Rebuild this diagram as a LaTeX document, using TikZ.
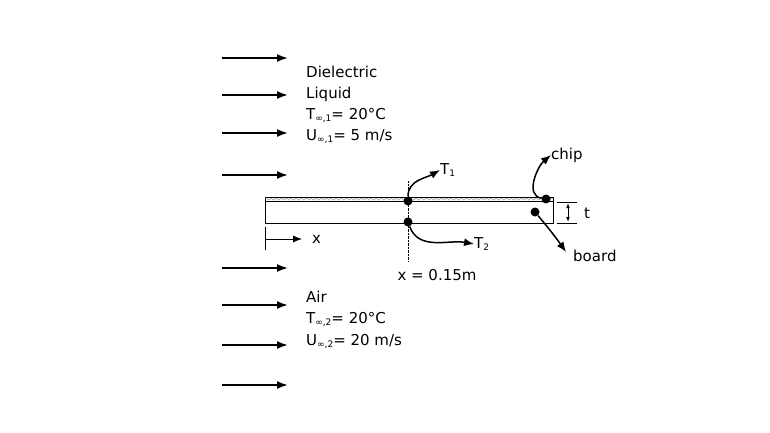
\documentclass[tikz,border=0pt]{standalone}
\usepackage{fontspec}
\setmainfont{DejaVu Sans}
\usetikzlibrary{arrows.meta,patterns,decorations.pathmorphing}
\newcommand{\sbs}[1]{\raisebox{-0.25ex}{\fontsize{9}{10}\selectfont #1}}
\begin{document}
\begin{tikzpicture}[x=1pt,y=-1pt,
 flow/.style={-{Latex[length=11pt,width=8pt]},line width=1.8pt},
 lbl/.style={anchor=west,inner sep=0pt,font=\fontsize{15}{17}\selectfont},
 dot/.style={circle,fill,inner sep=0pt,minimum size=9pt},
 pt/.style={-{Latex[length=10pt,width=8pt]},line width=1.5pt}]
\useasboundingbox (0,0) rectangle (770,433);
\foreach \y/\n in {58/a1,95/a2,133/a3,175/a4,268/a5,305/a6,345/a7,385/a8}{
 \coordinate (s\n) at (222,\y); \coordinate (e\n) at (288,\y);
 \draw[flow] (s\n) -- (e\n);}
\node[lbl] (t1) at (306,72) {Dielectric};
\node[lbl] (t2) at (306,94) {Liquid};
\node[lbl] (t3) at (306,115) {T\sbs{∞,1}= 20°C};
\node[lbl] (t4) at (306,137) {U\sbs{∞,1}= 5 m/s};
\node[lbl] (t5) at (306,297) {Air};
\node[lbl] (t6) at (306,319) {T\sbs{∞,2}= 20°C};
\node[lbl] (t7) at (306,341) {U\sbs{∞,2}= 20 m/s};
% board
\draw (265,197) rectangle (553,201);
\draw[gray,decorate,decoration={zigzag,segment length=5pt,amplitude=1pt}] (265,199) -- (553,199);
\draw[line width=0.8pt] (265,201) rectangle (553,223);
\draw[densely dotted] (408,181) -- (408,262);
\node[dot] (d1) at (408,201) {};
\node[dot] (d2) at (408,222) {};
\node[dot] (dc) at (546,199) {};
\node[dot] (db) at (535,212) {};
\node[lbl] (T1) at (440,170) {T\sbs{1}};
\node[lbl] (T2) at (474,244) {T\sbs{2}};
\node[lbl] (chip) at (551,155) {chip};
\node[lbl] (board) at (573,256) {board};
\draw[pt] (d1) to[out=90,in=210] (T1.west);
\draw[pt] (d2) to[out=-70,in=170] (T2.west);
\draw[pt] (dc) to[out=170,in=220] (chip.west);
\draw[pt] (db) to[out=-50,in=125] (566,252);
% thickness
\draw (557,202) -- (577,202); \draw (557,223) -- (577,223);
\draw[line width=1pt,{Latex[length=5pt]}-{Latex[length=5pt]}] (568,203) -- (568,222);
\node[lbl] (tt) at (584,213) {t};
% x axis
\draw[line width=0.8pt] (265,227) -- (265,250);
\coordinate (xo) at (265,239);
\node[lbl] (xl) at (312,239) {x};
\draw[line width=0.8pt,-{Latex[length=9pt,width=7pt]}] (xo) -- (302,239);
\node[font=\fontsize{15}{17}\selectfont,inner sep=0pt] (xv) at (437,275) {x = 0.15m};
\end{tikzpicture}
\end{document}
